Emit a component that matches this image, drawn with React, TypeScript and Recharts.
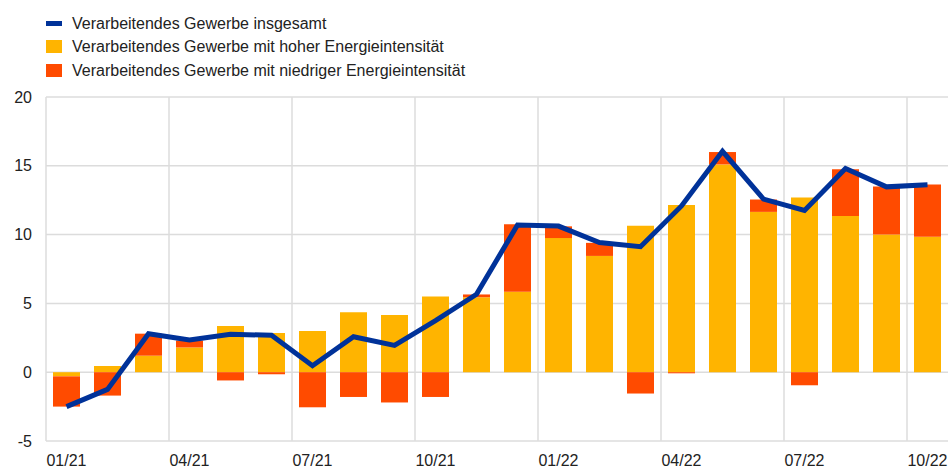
import { ComposedChart, Bar, Line, XAxis, YAxis, CartesianGrid, ReferenceLine } from 'recharts';

const months = [
  '01/21', '02/21', '03/21', '04/21', '05/21', '06/21', '07/21', '08/21', '09/21', '10/21', '11/21', '12/21',
  '01/22', '02/22', '03/22', '04/22', '05/22', '06/22', '07/22', '08/22', '09/22', '10/22',
];
const highEnergy = [-0.3, 0.45, 1.2, 1.8, 3.35, 2.85, 3.0, 4.35, 4.15, 5.5, 5.45, 5.85, 9.75, 8.45, 10.65, 12.15, 15.1, 11.65, 12.7, 11.35, 10.0, 9.85];
const lowEnergy = [-2.2, -1.7, 1.6, 0.5, -0.6, -0.15, -2.55, -1.8, -2.2, -1.8, 0.2, 4.9, 0.85, 0.95, -1.55, -0.08, 0.9, 0.9, -0.95, 3.4, 3.5, 3.8];
const total = [-2.5, -1.25, 2.8, 2.35, 2.76, 2.68, 0.47, 2.58, 1.95, 3.75, 5.66, 10.7, 10.62, 9.42, 9.12, 12.08, 16.05, 12.58, 11.76, 14.8, 13.47, 13.62];
const yTicks = [-5, 0, 5, 10, 15, 20];
const gridMonths = ['01/21', '04/21', '07/21', '10/21', '01/22', '04/22', '07/22', '10/22'];

const BLUE = '#003299';
const YELLOW = '#FFB400';
const RED = '#FF4B00';
const GRID = '#dcdcdc';

const data = months.map((m, i) => ({
  month: m,
  high: highEnergy[i],
  low: lowEnergy[i],
  total: total[i],
}));

const legendItems = [
  { label: 'Verarbeitendes Gewerbe insgesamt', color: BLUE, type: 'line' },
  { label: 'Verarbeitendes Gewerbe mit hoher Energieintensität', color: YELLOW, type: 'square' },
  { label: 'Verarbeitendes Gewerbe mit niedriger Energieintensität', color: RED, type: 'square' },
];

export default function App() {
  const font = '"Liberation Sans", Arial, sans-serif';
  return (
    <div style={{ position: 'absolute', left: 0, top: 0, width: 949, height: 469, background: '#fff', fontFamily: font }}>
      <div style={{ position: 'absolute', left: 46, top: 12, fontSize: 16, color: '#222', lineHeight: '23.3px' }}>
        {legendItems.map((it) => (
          <div key={it.label} style={{ display: 'flex', alignItems: 'center', height: 23.3 }}>
            <span
              style={{
                display: 'inline-block',
                width: 16,
                height: it.type === 'line' ? 5 : 13,
                background: it.color,
                marginRight: 10,
              }}
            />
            <span>{it.label}</span>
          </div>
        ))}
      </div>
      <ComposedChart
        width={949}
        height={469}
        data={data}
        stackOffset="sign"
        margin={{ top: 97, right: 1, bottom: 0, left: 0 }}
        barSize={27}
      >
        <CartesianGrid vertical={false} stroke={GRID} strokeWidth={1.5} />
        <XAxis
          dataKey="month"
          interval={2}
          axisLine={false}
          tickLine={false}
          tickSize={0}
          tickMargin={14}
          height={28}
          tick={{ fill: '#222', fontSize: 16, fontFamily: font }}
        />
        <YAxis
          domain={[-5, 20]}
          ticks={yTicks}
          width={46}
          axisLine={false}
          tickLine={false}
          tickSize={0}
          tickMargin={14}
          tick={{ fill: '#222', fontSize: 16, fontFamily: font }}
        />
        {gridMonths.map((g) => (
          <ReferenceLine key={g} x={g} position="start" stroke={GRID} strokeWidth={1.5} />
        ))}
        <Bar dataKey="high" stackId="a" fill={YELLOW} isAnimationActive={false} />
        <Bar dataKey="low" stackId="a" fill={RED} isAnimationActive={false} />
        <Line
          dataKey="total"
          type="linear"
          stroke={BLUE}
          strokeWidth={5}
          dot={false}
          activeDot={false}
          isAnimationActive={false}
        />
      </ComposedChart>
    </div>
  );
}
